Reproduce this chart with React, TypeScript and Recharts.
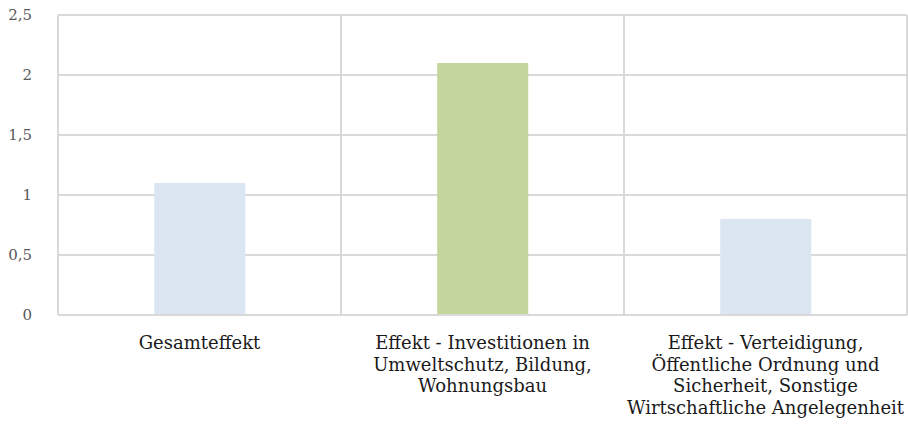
import { Bar, BarChart, CartesianGrid, Cell, XAxis, YAxis } from "recharts";

const categories = [
  "Gesamteffekt",
  "Effekt - Investitionen in Umweltschutz, Bildung, Wohnungsbau",
  "Effekt - Verteidigung, Öffentliche Ordnung und Sicherheit, Sonstige Wirtschaftliche Angelegenheit",
];

// line breaks as in the reference labels
const categoryLines = [
  ["Gesamteffekt"],
  ["Effekt - Investitionen in", "Umweltschutz, Bildung,", "Wohnungsbau"],
  ["Effekt - Verteidigung,", "Öffentliche Ordnung und", "Sicherheit, Sonstige", "Wirtschaftliche Angelegenheit"],
];

const values = [1.1, 2.1, 0.8];
const barColors = ["#DCE6F2", "#C3D69B", "#DCE6F2"];
const yTicks = [0, 0.5, 1, 1.5, 2, 2.5];

const data = categories.map((name, i) => ({ name, value: values[i], idx: i }));

const fmt = (n: number) => String(n).replace(".", ",");

// vertical grid lines at the category boundaries
const boundaryLines = ({ offset }: any) =>
  [0, 1, 2, 3].map((b) => offset.left + (offset.width * b) / categories.length);

function CategoryTick(props: any) {
  const { x, y, index } = props;
  const lines = categoryLines[index] ?? [];
  return (
    <g transform={`translate(${x},${y})`}>
      {lines.map((line, i) => (
        <text
          key={i}
          x={0}
          y={0}
          dy={26 + i * 21.7}
          textAnchor="middle"
          fill="#1a1a1a"
          fontSize={18}
          fontFamily="'DejaVu Serif', serif"
        >
          {line}
        </text>
      ))}
    </g>
  );
}

export default function App() {
  return (
    <div style={{ position: "absolute", left: 0, top: 0, background: "#fff" }}>
      <BarChart
        width={908}
        height={432}
        data={data}
        margin={{ top: 15, right: 1, left: 0, bottom: 0 }}
        barCategoryGap="34%"
      >
        <CartesianGrid
          stroke="#D9D9D9"
          strokeWidth={2}
          verticalCoordinatesGenerator={boundaryLines}
        />
        <XAxis
          dataKey="name"
          interval={0}
          tick={<CategoryTick />}
          tickLine={false}
          axisLine={{ stroke: "#D9D9D9", strokeWidth: 2 }}
          height={117}
        />
        <YAxis
          domain={[0, 2.5]}
          ticks={yTicks}
          tickFormatter={fmt}
          tickLine={false}
          axisLine={false}
          width={58}
          tickMargin={20}
          tick={{ fontSize: 15, fill: "#595959", fontFamily: "'DejaVu Serif', serif" }}
        />
        <Bar dataKey="value" isAnimationActive={false}>
          {data.map((d) => (
            <Cell key={d.idx} fill={barColors[d.idx]} />
          ))}
        </Bar>
      </BarChart>
    </div>
  );
}
